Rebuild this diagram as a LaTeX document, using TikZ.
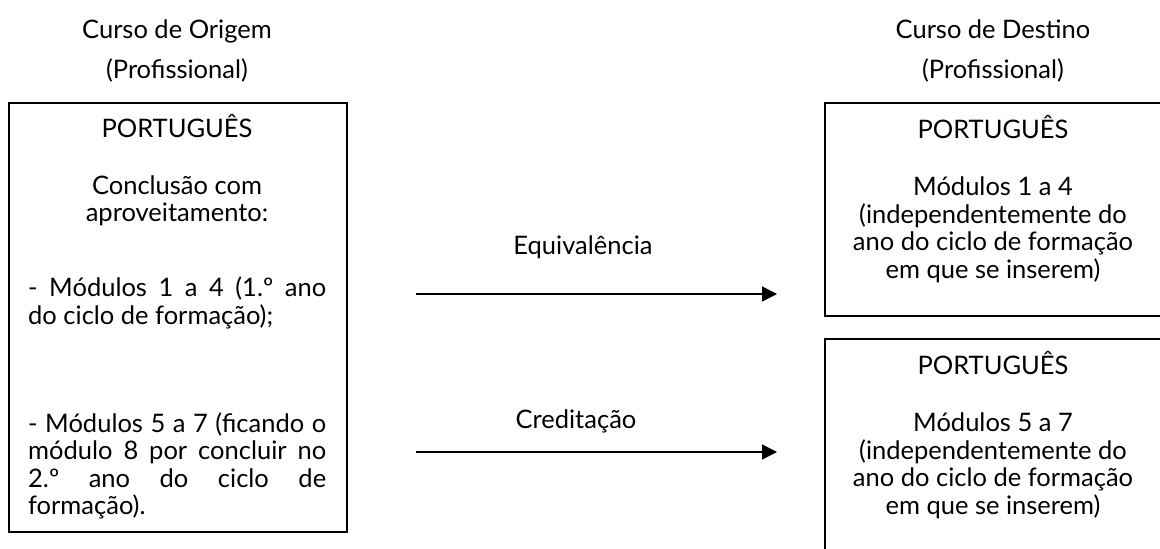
\documentclass[tikz,border=0pt]{standalone}
\usepackage{fontspec}
\setmainfont{Lato}
\usetikzlibrary{positioning, arrows.meta}

\tikzset{
  frame/.style={draw, line width=1.7pt, anchor=north west, inner sep=0pt},
  txt/.style={font=\fontsize{25.5}{27.5}\selectfont, align=center, inner sep=0pt},
  arr/.style={-{Triangle[length=15pt,width=15pt]}, line width=1.4pt},
}

\begin{document}
\begin{tikzpicture}[x=1pt, y=-1pt]
    \useasboundingbox (0,0) rectangle (1160,549);
    \clip (0,0) rectangle (1160,549);

    % Headers
    \node[txt] (hdrO) at (177,51) {Curso de Origem\\[12pt](Profissional)};
    \node[txt] (hdrD) at (993,51) {Curso de Destino\\[12pt](Profissional)};

    % Boxes
    \node[frame, minimum width=338pt, minimum height=429pt] (orig) at (8,102) {};
    \node[frame, minimum width=342pt, minimum height=213pt] (dest1) at (824,102) {};
    \node[frame, minimum width=342pt, minimum height=230pt] (dest2) at (824,338) {};

    % Origin text
    \node[txt] (titO) at (177,126) {PORTUGUÊS};
    \node[txt] (concl) at (177,201) {Conclusão com\\aproveitamento:};
    \node[txt, align=left, anchor=west] (modA) at (28,303)
        {\makebox[298pt][s]{- Módulos 1 a 4 (1.º ano}\\do ciclo de formação);};
    \node[txt, align=left, anchor=west] (modB) at (28,466)
        {\makebox[298pt][s]{- Módulos 5 a 7 (ficando o}\\
         \makebox[298pt][s]{módulo 8 por concluir no}\\
         \makebox[298pt][s]{2.º ano do ciclo de}\\
         formação).};

    % Destination text
    \node[txt] (titD1) at (993,127) {PORTUGUÊS};
    \node[txt] (modD1) at (993,230) {Módulos 1 a 4\\(independentemente do\\ano do ciclo de formação\\em que se inserem)};
    \node[txt] (titD2) at (993,363) {PORTUGUÊS};
    \node[txt] (modD2) at (993,466) {Módulos 5 a 7\\(independentemente do\\ano do ciclo de formação\\em que se inserem)};

    % Arrows
    \coordinate (eqA) at (416,294);
    \coordinate (eqB) at (777,294);
    \coordinate (crA) at (416,452);
    \coordinate (crB) at (777,452);
    \draw[arr] (eqA) -- (eqB);
    \draw[arr] (crA) -- (crB);
    \node[txt] (lblEq) at (583,247) {Equivalência};
    \node[txt] (lblCr) at (576,421) {Creditação};
\end{tikzpicture}
\end{document}
